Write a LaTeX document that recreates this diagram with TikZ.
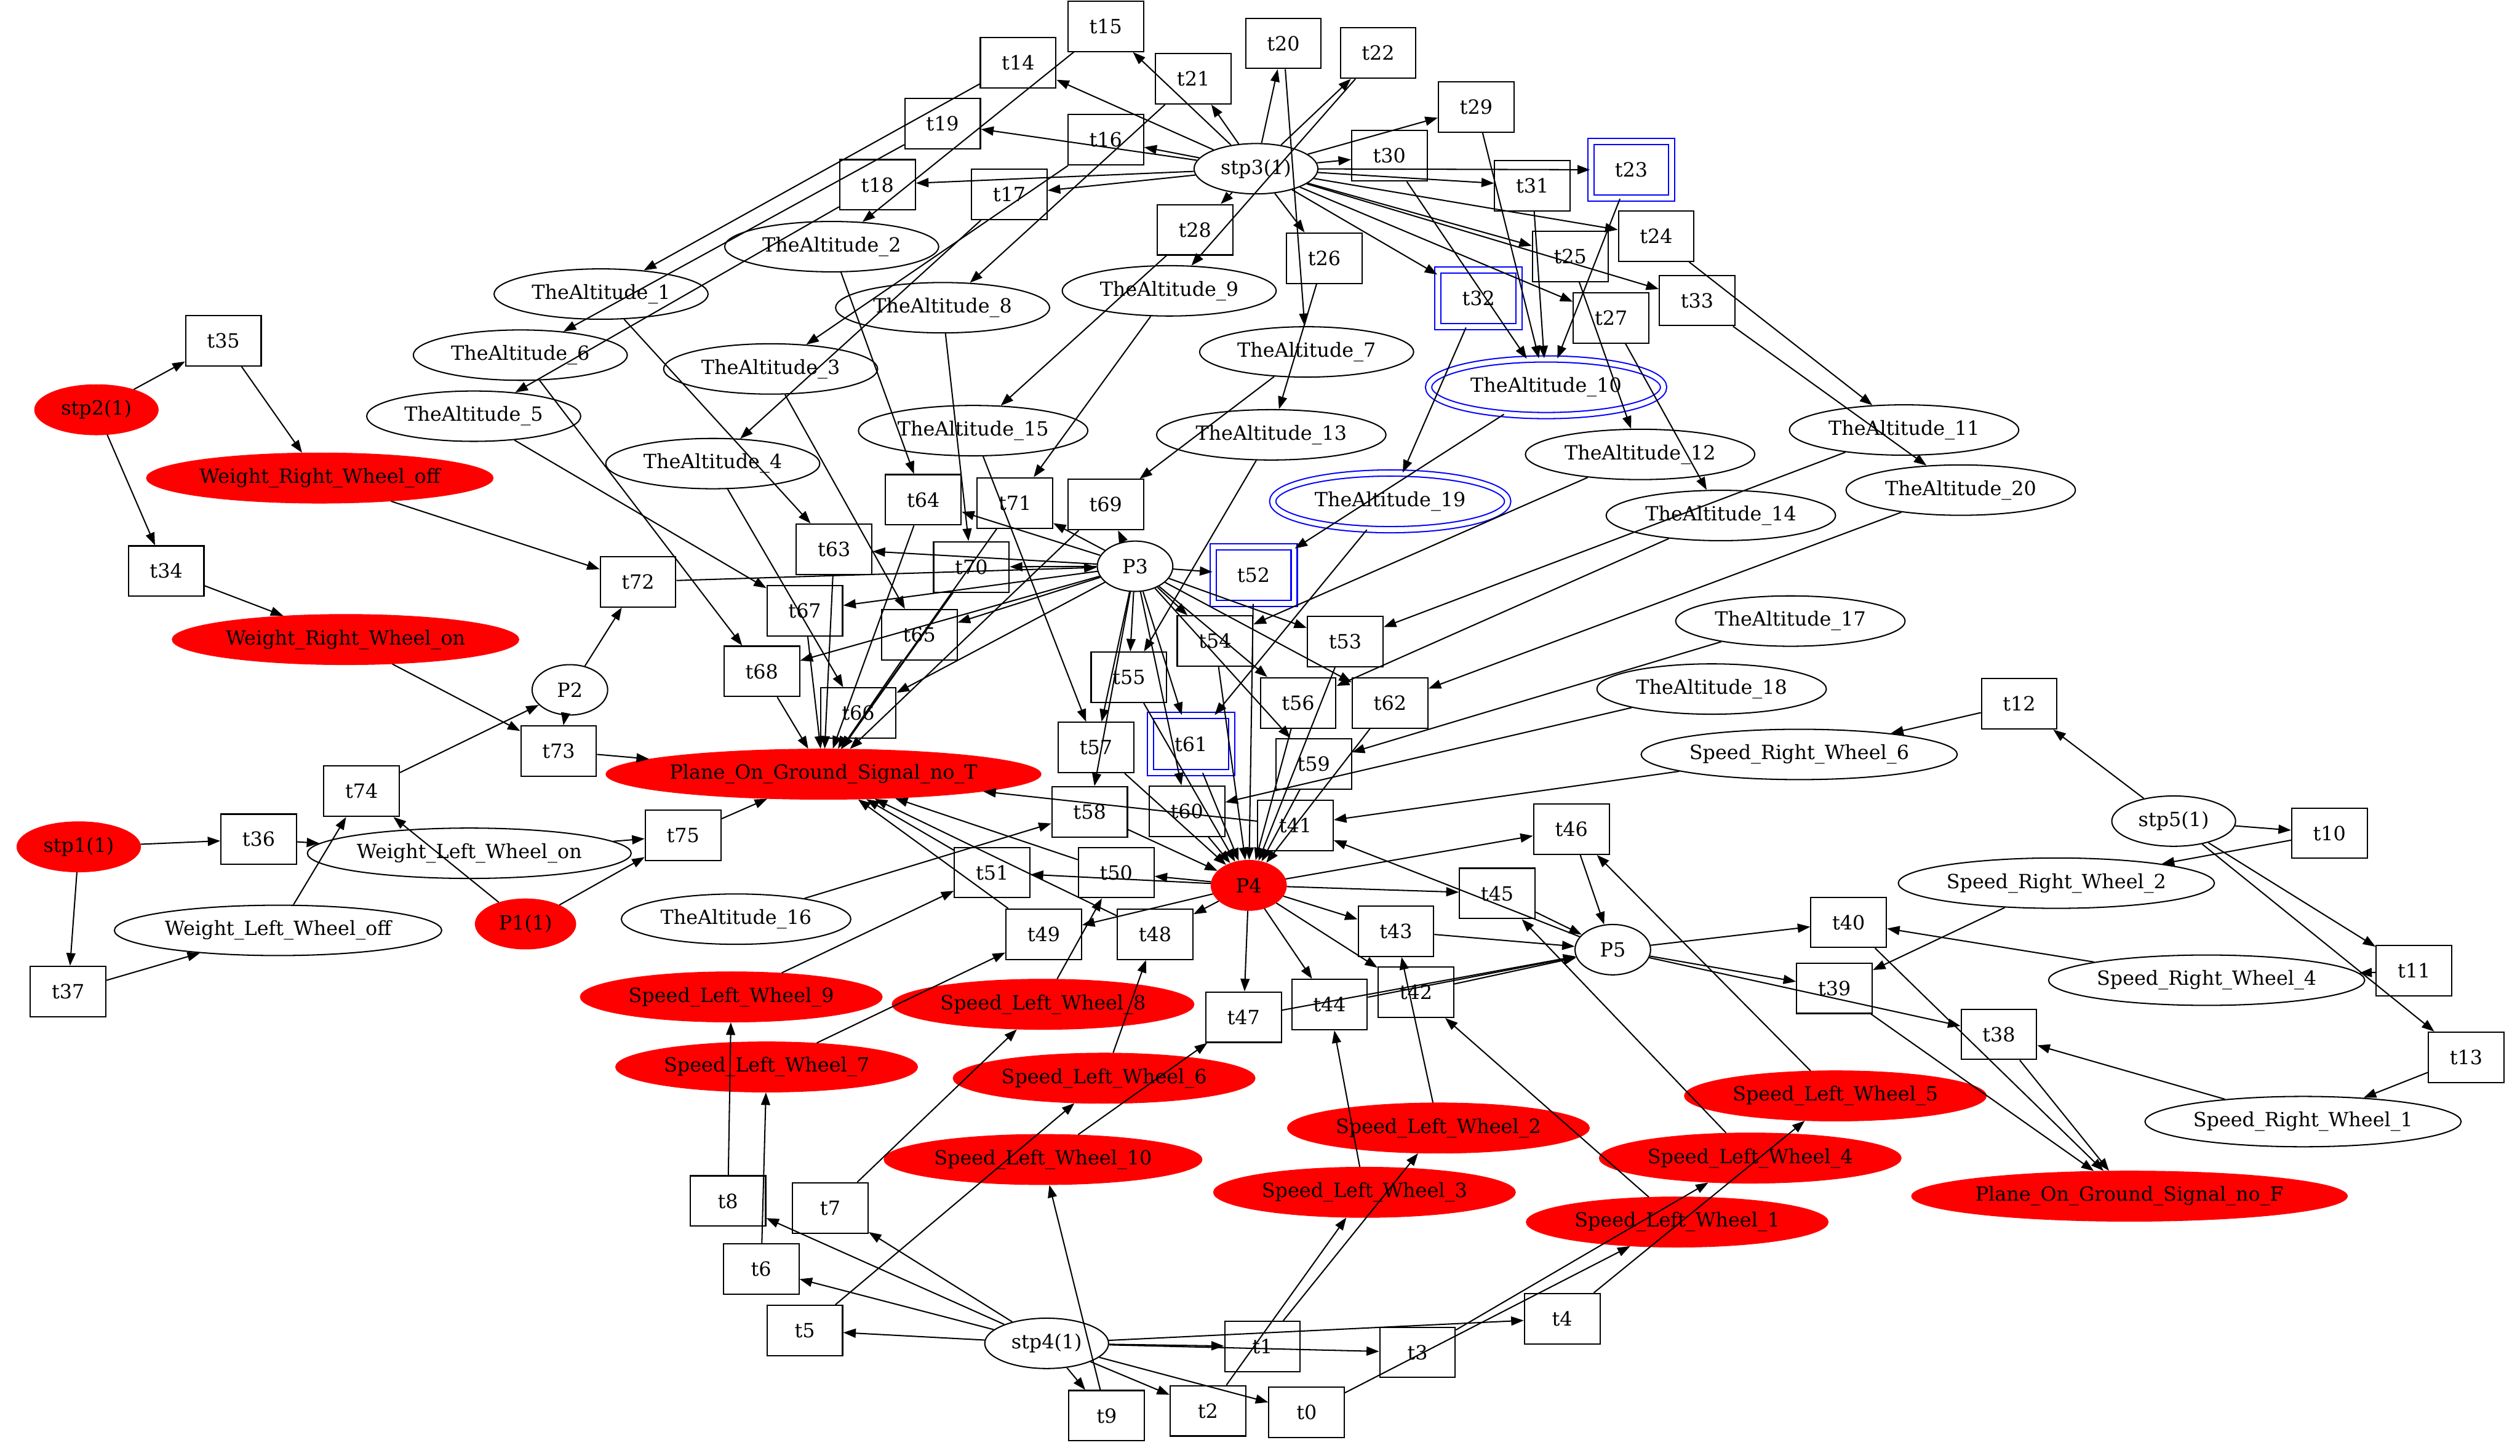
\documentclass[tikz,border=0pt]{standalone}
\usepackage{fontspec}
\setmainfont{DejaVu Serif}
\usetikzlibrary{arrows.meta,shapes.geometric}
\begin{document}
\begin{tikzpicture}[x=1.149pt,y=-1.149pt,
  every node/.style={font=\fontsize{14pt}{16pt}\selectfont, inner sep=0pt},
  tr/.style={draw, rectangle, line width=0.9pt, minimum width=54pt, minimum height=36pt},
  trd/.style={draw=blue, double=white, double distance=3.5pt, line width=0.9pt,
              rectangle, minimum width=58pt, minimum height=40.5pt},
  pl/.style={draw, ellipse, line width=0.9pt, minimum height=36pt},
  pld/.style={draw=blue, double=white, double distance=3.5pt, line width=0.9pt,
              ellipse, minimum height=40.5pt},
  pr/.style={fill=red, draw=red, ellipse, minimum height=36pt},
  e/.style={line width=0.9pt, -{Triangle[length=9pt,width=6.5pt]}},
]
\useasboundingbox (0,0) rectangle (1568,906);
\fill[white] (0,0) rectangle (1568,906);

% ---------- places ----------
\node[pr, minimum width=88.5pt] (stp1) at (49,527) {stp1(1)};
\node[pr, minimum width=88.5pt] (stp2) at (60,255) {stp2(1)};
\node[pl, minimum width=88.5pt] (stp3) at (781.5,105) {stp3(1)};
\node[pl, minimum width=88.5pt] (stp4) at (651.25,836) {stp4(1)};
\node[pl, minimum width=88.5pt] (stp5) at (1352.5,511) {stp5(1)};
\node[pr, minimum width=72pt] (P1) at (327,575) {P1(1)};
\node[pl, minimum width=54pt] (P2) at (354.6,429.3) {P2};
\node[pl, minimum width=54pt] (P3) at (706.25,352.4) {P3};
\node[pr, minimum width=54pt] (P4) at (777,551) {P4};
\node[pl, minimum width=54pt] (P5) at (1003.5,591) {P5};

\node[pl, minimum width=153pt] (A1) at (374,183) {TheAltitude\_1};
\node[pl, minimum width=153pt] (A2) at (517.5,153.5) {TheAltitude\_2};
\node[pl, minimum width=153pt] (A3) at (479.5,229.6) {TheAltitude\_3};
\node[pl, minimum width=153pt] (A4) at (443.5,288.5) {TheAltitude\_4};
\node[pl, minimum width=153pt] (A5) at (294.75,259) {TheAltitude\_5};
\node[pl, minimum width=153pt] (A6) at (323.75,221) {TheAltitude\_6};
\node[pl, minimum width=153pt] (A7) at (813,219) {TheAltitude\_7};
\node[pl, minimum width=153pt] (A8) at (586.5,191.5) {TheAltitude\_8};
\node[pl, minimum width=153pt] (A9) at (727.5,181) {TheAltitude\_9};
\node[pld, minimum width=168pt] (A10) at (962,241) {TheAltitude\_10};
\node[pl, minimum width=164pt] (A11) at (1184.75,267.6) {TheAltitude\_11};
\node[pl, minimum width=164pt] (A12) at (1020.5,282.8) {TheAltitude\_12};
\node[pl, minimum width=164pt] (A13) at (791,270.6) {TheAltitude\_13};
\node[pl, minimum width=164pt] (A14) at (1070.75,320.8) {TheAltitude\_14};
\node[pl, minimum width=164pt] (A15) at (605.5,268) {TheAltitude\_15};
\node[pl, minimum width=164pt] (A16) at (458,572) {TheAltitude\_16};
\node[pl, minimum width=164pt] (A17) at (1114,386.5) {TheAltitude\_17};
\node[pl, minimum width=164pt] (A18) at (1065,428.8) {TheAltitude\_18};
\node[pld, minimum width=168pt] (A19) at (865,312) {TheAltitude\_19};
\node[pl, minimum width=164pt] (A20) at (1220,305) {TheAltitude\_20};

\node[pr, minimum width=248pt] (WRWoff) at (199,297.5) {Weight\_Right\_Wheel\_off};
\node[pr, minimum width=248pt] (WRWon) at (215,398) {Weight\_Right\_Wheel\_on};
\node[pl, minimum width=231.5pt] (WLWon) at (292,531) {Weight\_Left\_Wheel\_on};
\node[pl, minimum width=234pt] (WLWoff) at (173,579) {Weight\_Left\_Wheel\_off};
\node[pr, minimum width=310pt] (PT) at (512.4,481.8) {Plane\_On\_Ground\_Signal\_no\_T};
\node[pr, minimum width=310pt] (PF) at (1325,744.4) {Plane\_On\_Ground\_Signal\_no\_F};

\node[pr, minimum width=216pt] (SLW1) at (1043.6,760.5) {Speed\_Left\_Wheel\_1};
\node[pr, minimum width=216pt] (SLW2) at (895,702) {Speed\_Left\_Wheel\_2};
\node[pr, minimum width=216pt] (SLW3) at (849,742) {Speed\_Left\_Wheel\_3};
\node[pr, minimum width=216pt] (SLW4) at (1089,720.7) {Speed\_Left\_Wheel\_4};
\node[pr, minimum width=216pt] (SLW5) at (1142,682) {Speed\_Left\_Wheel\_5};
\node[pr, minimum width=216pt] (SLW6) at (687,671) {Speed\_Left\_Wheel\_6};
\node[pr, minimum width=216pt] (SLW7) at (477,664) {Speed\_Left\_Wheel\_7};
\node[pr, minimum width=216pt] (SLW8) at (649,625) {Speed\_Left\_Wheel\_8};
\node[pr, minimum width=216pt] (SLW9) at (455,620.4) {Speed\_Left\_Wheel\_9};
\node[pr, minimum width=227.5pt] (SLW10) at (649,721.6) {Speed\_Left\_Wheel\_10};

\node[pl, minimum width=226pt] (SRW1) at (1433,698) {Speed\_Right\_Wheel\_1};
\node[pl, minimum width=226pt] (SRW2) at (1279.5,549.6) {Speed\_Right\_Wheel\_2};
\node[pl, minimum width=226pt] (SRW4) at (1373,610) {Speed\_Right\_Wheel\_4};
\node[pl, minimum width=226pt] (SRW6) at (1119.5,469.5) {Speed\_Right\_Wheel\_6};

% ---------- transitions ----------
\foreach \n/\x/\y in {
  0/813/879, 1/785.5/838, 2/751.6/878, 3/882/841.6, 4/972/820.6,
  5/500.75/828, 6/473.6/789.8, 7/516.6/751.8, 8/452.9/747.4, 9/688.6/881,
  10/1449.4/518.5, 11/1502/604, 12/1256.4/438, 13/1534.5/658,
  14/633.5/39, 15/688/16.4, 16/688/87, 17/628/121, 18/546/115, 19/586.5/77,
  20/798.5/27, 21/742.5/49, 22/857.5/33, 24/1030.5/147, 25/977/159.6,
  26/824/160.7, 27/1002.5/197.8, 28/743.5/143, 29/918.5/66.6, 30/864.5/97,
  31/953.5/115.5, 33/1056/187,
  34/103.4/355.4, 35/139/212, 36/161/522.3, 37/42.4/617,
  38/1243.75/643.7, 39/1141.4/615, 40/1150.25/574, 41/806/513.6,
  42/881/617.5, 43/868.6/579.5, 44/827.25/625.2, 45/931.6/556,
  46/977.75/516, 47/773.75/633, 48/718.75/581.4, 49/649.4/581.4,
  50/694.5/543, 51/617.4/543,
  53/837/399.3, 54/756/399, 55/702.4/421.5, 56/807.75/437.4,
  57/682/465.2, 58/678/505.2, 59/817.4/475.3, 60/738.5/504.8, 62/864.9/437.4,
  63/519/341.8, 64/574.5/311, 65/572/395, 66/534/443.8, 67/500.75/380,
  68/474/417.8, 69/688/314, 70/604.4/352.8, 71/631.5/313,
  72/397/362, 73/347.6/467.4, 74/225/492.4, 75/425/520}
  \node[tr] (t\n) at (\x,\y) {t\n};
\foreach \n/\x/\y in {23/1015/105.7, 32/920/185.8, 52/780/357.8, 61/741/463}
  \node[trd] (t\n) at (\x,\y) {t\n};

% ---------- arcs ----------
\foreach \a/\b in {
  stp2/t35, stp2/t34, t35/WRWoff, t34/WRWon, WRWoff/t72, WRWon/t73,
  P2/t72, P2/t73, t72/P3, t73/PT, t74/P2,
  stp1/t36, stp1/t37, t36/WLWon, t37/WLWoff, WLWoff/t74, P1/t74, P1/t75,
  WLWon/t75, t75/PT,
  t14/A1, t15/A2, t16/A3, t17/A4, t18/A5, t19/A6, t20/A7, t21/A8, t22/A9,
  t23/A10, t29/A10, t30/A10, t31/A10, t24/A11, t25/A12, t26/A13, t27/A14,
  t28/A15, t32/A19, t33/A20,
  A1/t63, A2/t64, A3/t65, A4/t66, A5/t67, A6/t68, A7/t69, A8/t70, A9/t71,
  A10/t52, A11/t53, A12/t54, A13/t55, A14/t56, A15/t57, A16/t58, A17/t59,
  A18/t60, A19/t61, A20/t62,
  SRW6/t41, P5/t41, t41/PT,
  SLW1/t42, SLW2/t43, SLW3/t44, SLW4/t45, SLW5/t46, SLW10/t47, SLW6/t48,
  SLW7/t49, SLW8/t50, SLW9/t51,
  P5/t38, P5/t39, P5/t40, SRW1/t38, SRW2/t39, SRW4/t40, t38/PF, t39/PF, t40/PF,
  stp5/t10, stp5/t11, stp5/t12, stp5/t13, t10/SRW2, t11/SRW4, t12/SRW6, t13/SRW1,
  t0/SLW1, t1/SLW2, t2/SLW3, t3/SLW4, t4/SLW5, t5/SLW6, t6/SLW7, t7/SLW8,
  t8/SLW9, t9/SLW10}
  \draw[e] (\a) -- (\b);
\foreach \k in {14,...,33} \draw[e] (stp3) -- (t\k);
\foreach \k in {52,...,71} \draw[e] (P3) -- (t\k);
\foreach \k in {63,...,71} \draw[e] (t\k) -- (PT);
\foreach \k in {52,...,62} \draw[e] (t\k) -- (P4);
\foreach \k in {42,...,51} \draw[e] (P4) -- (t\k);
\foreach \k in {42,...,47} \draw[e] (t\k) -- (P5);
\foreach \k in {48,...,51} \draw[e] (t\k) -- (PT);
\foreach \k in {0,...,9} \draw[e] (stp4) -- (t\k);
\end{tikzpicture}
\end{document}
